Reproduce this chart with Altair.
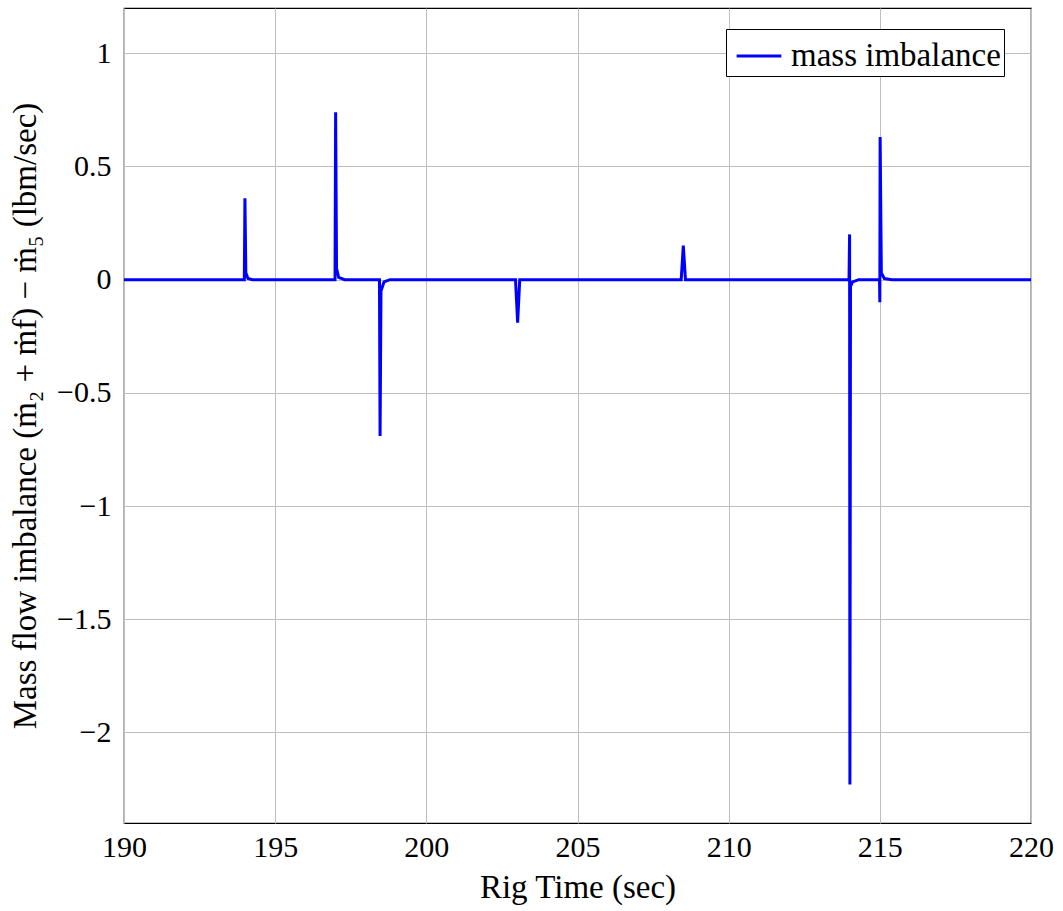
import altair as alt
import pandas as pd

# Rig time (sec) and mass imbalance (lbm/sec)
time_s = [190.0, 193.98, 194.0, 194.03, 194.1, 194.25,
          196.98, 197.0, 197.03, 197.1, 197.3,
          198.45, 198.47, 198.5, 198.6, 198.8,
          202.95, 203.02, 203.09,
          208.43, 208.5, 208.57,
          213.98, 214.0, 214.01, 214.03, 214.1, 214.3,
          214.99, 215.0, 215.01, 215.05, 215.15, 215.4,
          220.0]
imbalance = [0.0, 0.0, 0.36, 0.03, 0.005, 0.0,
             0.0, 0.74, 0.05, 0.01, 0.0,
             0.0, -0.69, -0.05, -0.01, 0.0,
             0.0, -0.19, 0.0,
             0.0, 0.15, 0.0,
             0.0, 0.2, -2.23, -0.03, -0.01, 0.0,
             0.0, -0.1, 0.63, 0.03, 0.005, 0.0,
             0.0]
series = ["mass imbalance"] * len(time_s)

df = pd.DataFrame({"t": time_s, "m": imbalance, "s": series})

FONT = "Liberation Serif"

chart = alt.Chart(df).mark_line(strokeWidth=3, interpolate="linear").encode(
    x=alt.X("t:Q", scale=alt.Scale(domain=[190, 220], nice=False, zero=False),
            axis=alt.Axis(title="Rig Time (sec)", values=[190, 195, 200, 205, 210, 215, 220],
                          format="d", labelFlush=False)),
    y=alt.Y("m:Q", scale=alt.Scale(domain=[-2.4, 1.2], nice=False, zero=False),
            axis=alt.Axis(title="Mass flow imbalance (ṁ₂ + ṁf) − ṁ₅ (lbm/sec)",
                          values=[-2, -1.5, -1, -0.5, 0, 0.5, 1], format="~g",
                          labelFlush=False)),
    color=alt.Color("s:N", scale=alt.Scale(domain=["mass imbalance"], range=["#0000ff"]),
                    legend=alt.Legend(title=None, orient="none", legendX=602, legendY=21,
                                      symbolType="stroke", symbolStrokeWidth=3, symbolSize=2000,
                                      labelFont=FONT, labelFontSize=33, labelColor="black",
                                      labelLimit=0,
                                      strokeColor="black", fillColor="white", padding=3,
                                      labelOffset=8, symbolOffset=6)),
).properties(
    width=907, height=815,
    autosize=alt.AutoSizeParams(type="none"),
    padding={"left": 124, "top": 8, "right": 32, "bottom": 88},
).configure_view(
    stroke="black", strokeWidth=1.2
).configure_axis(
    labelFont=FONT, titleFont=FONT, labelFontSize=30, titleFontSize=33,
    labelColor="black", titleColor="black", titleFontWeight="normal",
    grid=True, gridColor="#bfbfbf", gridWidth=1, domain=False,
    tickSize=0, labelPadding=9
).configure_axisX(
    titlePadding=9
).configure_axisY(
    labelPadding=13, titlePadding=14
)

chart.save("out.html", embed_options={"renderer": "svg", "actions": False})
